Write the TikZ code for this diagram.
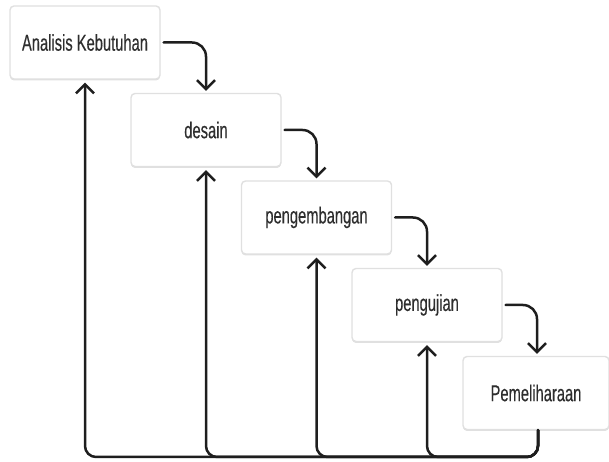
\documentclass[tikz,border=0pt]{standalone}
\usepackage{fontspec}
\setmainfont[FakeStretch=0.64,FakeBold=0.25]{Liberation Sans}
\usetikzlibrary{arrows.meta,shadows}
\definecolor{ink}{HTML}{1E1E1E}
\definecolor{label}{HTML}{2E2E2E}
\definecolor{frame}{HTML}{E0E0E0}
\tikzset{
  phase/.style={draw=frame, line width=1.4pt, fill=white, rounded corners=4pt,
    minimum width=150pt, minimum height=73pt, inner sep=0pt,
    text=label, font=\fontsize{23}{26}\selectfont,
    drop shadow={shadow xshift=0pt, shadow yshift=-1.5pt, opacity=0.12, fill=black}},
  flow/.style={draw=ink, line width=2.5pt, line cap=round, line join=round,
    -{Straight Barb[length=9pt,width=18pt,line width=2.5pt]}},
  next/.style={flow, rounded corners=14pt, shorten <=3pt, shorten >=2pt},
  back/.style={flow, rounded corners=11pt, shorten >=3pt}
}
\begin{document}
\begin{tikzpicture}[x=1pt,y=1pt]
  \useasboundingbox (0,0) rectangle (609,462);

  % waterfall phases
  \node[phase] (p1) at (85,419.5) {Analisis Kebutuhan};
  \node[phase] (p2) at (206,332) {desain};
  \node[phase] (p3) at (316.5,244.5) {pengembangan};
  \node[phase] (p4) at (427,157) {pengujian};
  \node[phase, minimum width=146pt] (p5) at (536,69) {Pemeliharaan};

  % forward steps
  \draw[next] (p1.east) -| (p2.north);
  \draw[next] (p2.east) -| (p3.north);
  \draw[next] (p3.east) -| (p4.north);
  \draw[next] (p4.east) -| ([xshift=1pt]p5.north);

  % feedback paths along the bottom
  \coordinate (base) at (0,5);
  \coordinate (out) at ([xshift=2pt]p5.south);
  \foreach \t in {p1,p2,p3,p4}
    \draw[back] (out) -- (out |- base) -| (\t.south);
\end{tikzpicture}
\end{document}
